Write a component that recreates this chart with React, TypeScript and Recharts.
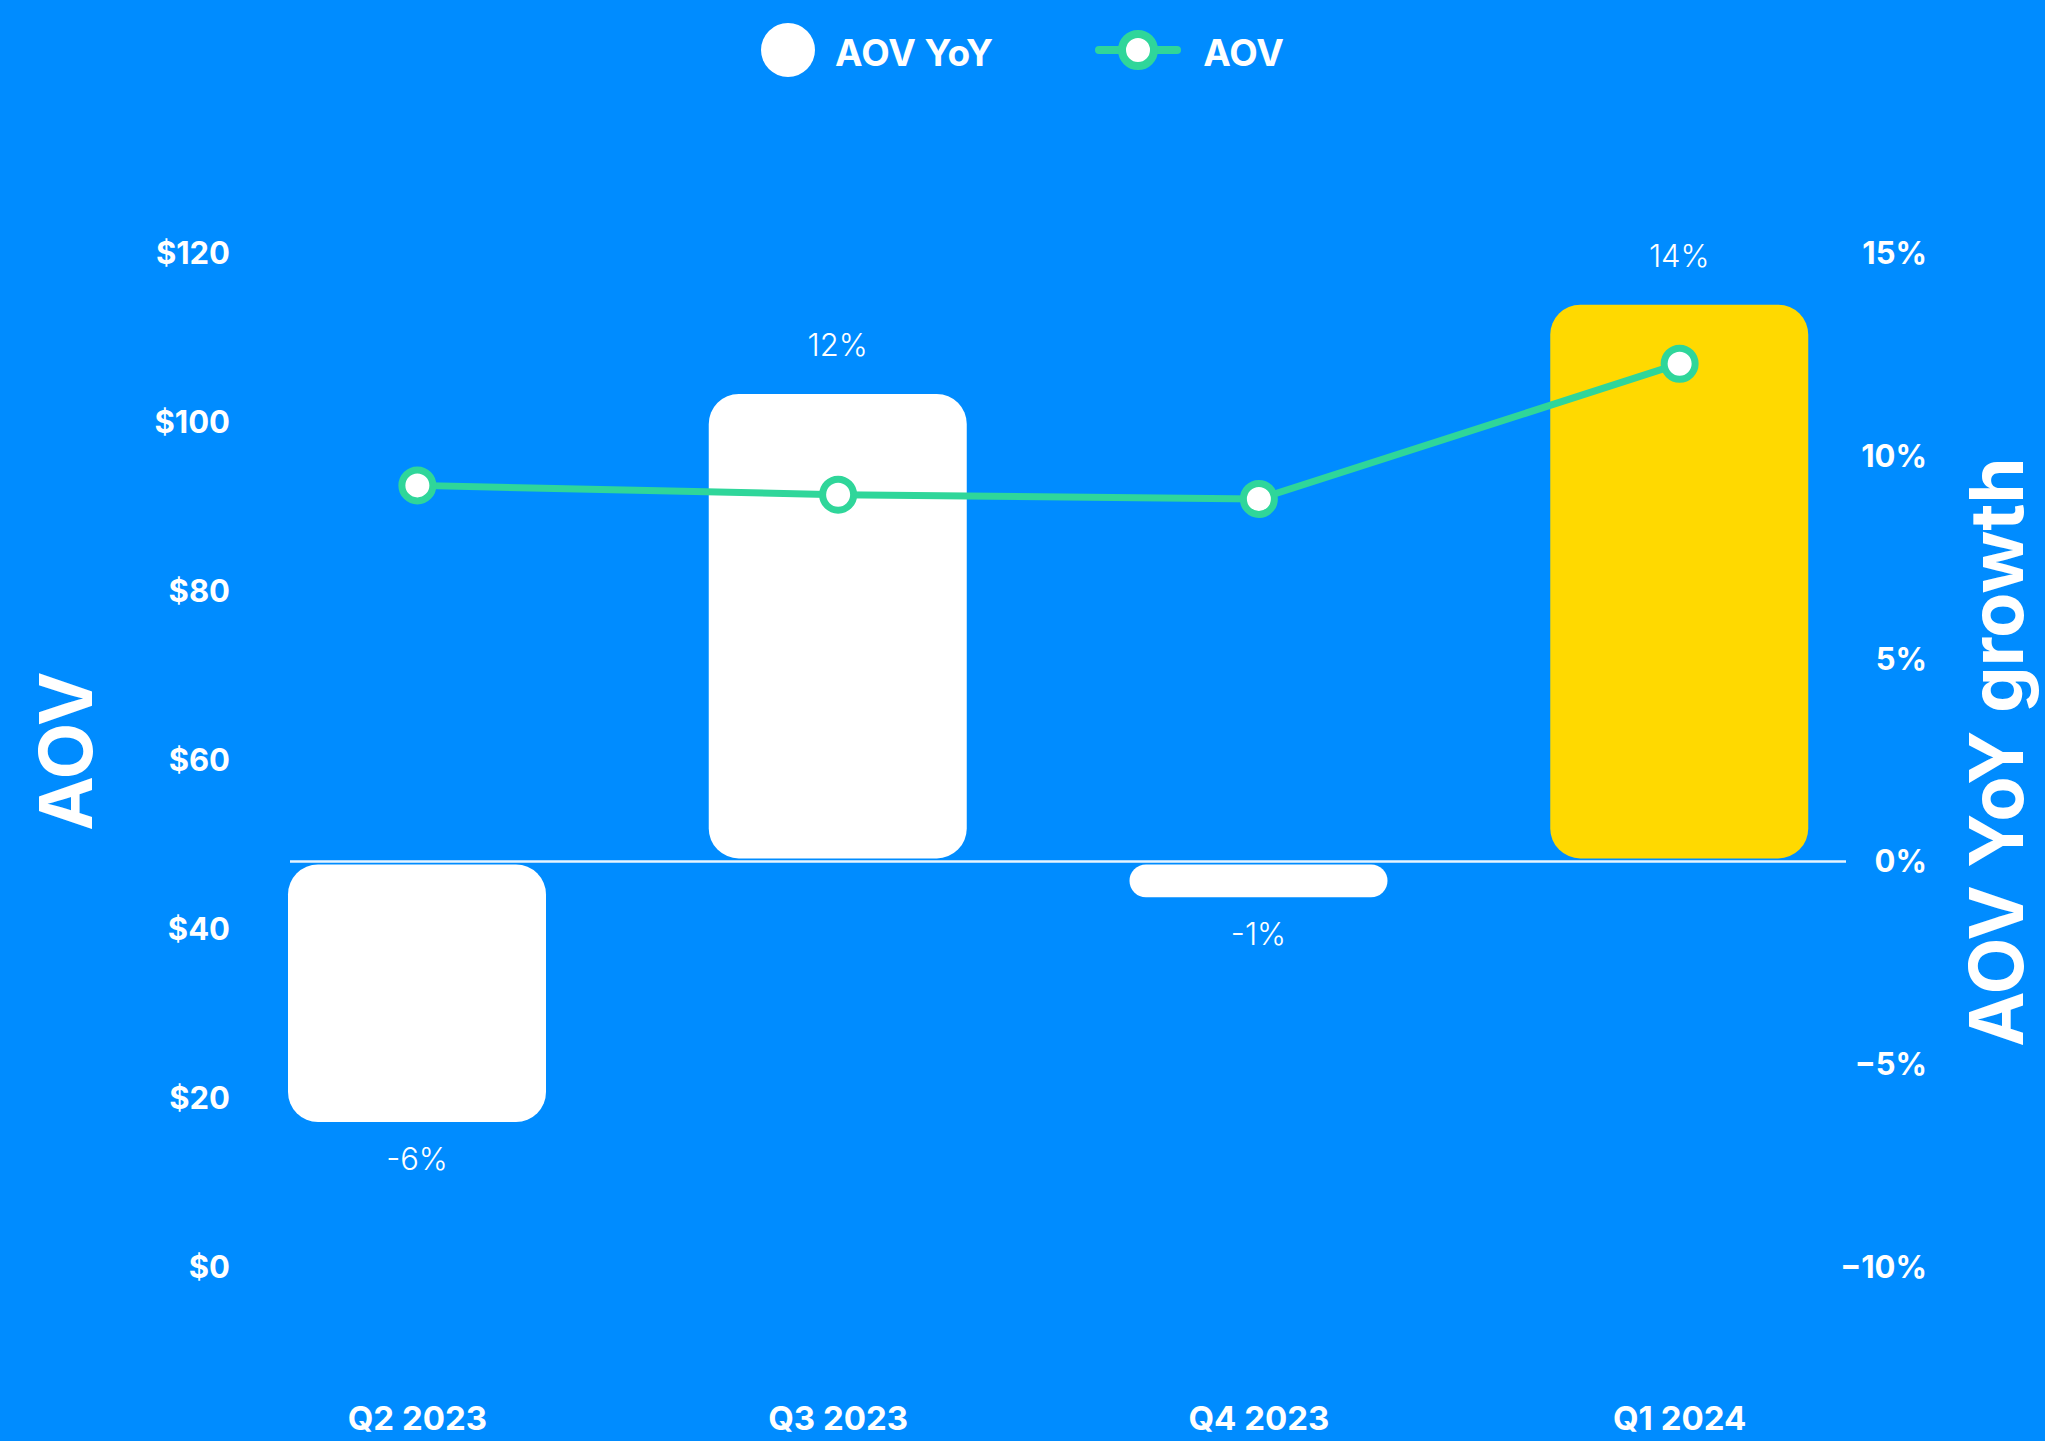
import React from 'react';
import { ComposedChart, Bar, Line, XAxis, YAxis, ReferenceLine, Legend, Cell, LabelList } from 'recharts';

const categories = ['Q2 2023', 'Q3 2023', 'Q4 2023', 'Q1 2024'];
const aovYoY = [-6.5, 11.6, -0.96, 13.8];
const aovValues = [92.5, 91.4, 90.9, 106.9];
const barColors = ['#ffffff', '#ffffff', '#ffffff', '#ffd900'];
const leftTicks = [0, 20, 40, 60, 80, 100, 120];
const rightTicks = [-10, -5, 0, 5, 10, 15];
const legendOrder = ['AOV YoY', 'AOV'];

const data = categories.map((c, i) => ({ quarter: c, yoy: aovYoY[i], aov: aovValues[i] }));

const BG = '#008cff';
const GREEN = '#2fd69a';
const FONT = 'Inter, "Noto Sans", sans-serif';

const RoundedBar = (props: any) => {
  const { x, y, width, height, fill } = props;
  const inset = 3;
  const top = Math.min(y, y + height) + inset;
  const h = Math.abs(height) - 2 * inset;
  const left = x + inset;
  const w = width - 2 * inset;
  if (!(h > 0) || !(w > 0)) return null;
  const r = Math.min(30, h / 2, w / 2);
  return <rect x={left} y={top} width={w} height={h} rx={r} ry={r} fill={fill} />;
};

const renderBarLabel = (props: any) => {
  const vb = props.viewBox || {};
  const x = props.x ?? vb.x;
  const y = props.y ?? vb.y;
  const width = props.width ?? vb.width;
  const height = props.height ?? vb.height;
  const v = Number(props.value);
  const cx = x + width / 2;
  const top = Math.min(y, y + height);
  const bottom = Math.max(y, y + height);
  const text = `${v < 0 ? '-' : ''}${Math.abs(Math.round(v))}%`;
  const common = { textAnchor: 'middle' as const, fill: '#ffffff', fontSize: 31, fontWeight: 300, fontFamily: FONT };
  if (v >= 0) return <text x={cx} y={top - 35} {...common}>{text}</text>;
  return <text x={cx} y={bottom + 45} {...common}>{text}</text>;
};

const renderLegend = (props: any) => {
  const payload = [...(props.payload || [])].sort(
    (a: any, b: any) => legendOrder.indexOf(a.value) - legendOrder.indexOf(b.value)
  );
  return (
    <div style={{ height: 100, width: 2045, display: 'flex', alignItems: 'center', justifyContent: 'center', fontFamily: FONT, fontSize: 37, fontWeight: 700, color: '#ffffff' }}>
      {payload.map((entry: any, i: number) => (
        <div key={i} style={{ display: 'flex', alignItems: 'center', marginLeft: i === 0 ? 0 : 102 }}>
          {entry.type === 'line' ? (
            <svg width={86} height={54} style={{ marginRight: 22 }}>
              <line x1={4} y1={27} x2={82} y2={27} stroke={GREEN} strokeWidth={8} strokeLinecap="round" />
              <circle cx={43} cy={27} r={16} fill="#ffffff" stroke={GREEN} strokeWidth={8} />
            </svg>
          ) : (
            <svg width={54} height={54} style={{ marginRight: 20 }}>
              <circle cx={27} cy={27} r={27} fill="#ffffff" />
            </svg>
          )}
          <span style={{ lineHeight: '54px', paddingTop: 6 }}>{entry.value}</span>
        </div>
      ))}
    </div>
  );
};

const RightTick = (props: any) => {
  const { x, y, payload } = props;
  const v = Number(payload.value);
  const label = v < 0 ? `\u2212${-v}%` : `${v}%`;
  return (
    <text x={x} y={y} dy="0.355em" textAnchor="end" fill="#ffffff" fontSize={31} fontWeight={700} fontFamily={FONT}>
      {label}
    </text>
  );
};

const LeftTitle = (props: any) => {
  const vb = props.viewBox;
  const x = vb.x + 2;
  const y = vb.y + vb.height / 2 - 9;
  return (
    <text x={x} y={y} transform={`rotate(-90, ${x}, ${y})`} textAnchor="middle" fill="#ffffff" fontSize={73} fontWeight={700} fontFamily={FONT}>
      AOV
    </text>
  );
};

const RightTitle = (props: any) => {
  const vb = props.viewBox;
  const x = vb.x + vb.width + 27;
  const y = vb.y + vb.height / 2 - 8;
  return (
    <text x={x} y={y} transform={`rotate(-90, ${x}, ${y})`} textAnchor="middle" fill="#ffffff" fontSize={74} fontWeight={700} fontFamily={FONT}>
      AOV YoY growth
    </text>
  );
};

export default function App() {
  return (
    <div style={{ position: 'fixed', left: 0, top: 0, width: 2045, height: 1441, background: BG, fontFamily: FONT }}>
      <ComposedChart width={2045} height={1441} data={data} margin={{ top: 153, right: 49, bottom: 0, left: 90 }}>
        <Legend verticalAlign="top" content={renderLegend} wrapperStyle={{ top: 0, left: 0, width: 2045, height: 100 }} />
        <XAxis
          dataKey="quarter"
          height={174}
          axisLine={false}
          tickLine={false}
          tickSize={0}
          tickMargin={140}
          padding={{ left: -83, right: -44 }}
          interval={0}
          tick={{ fill: '#ffffff', fontSize: 33, fontWeight: 700, fontFamily: FONT }}
        />
        <YAxis
          yAxisId="left"
          orientation="left"
          width={200}
          domain={[0, 120]}
          ticks={leftTicks}
          interval={0}
          axisLine={false}
          tickLine={false}
          tickSize={0}
          tickMargin={60}
          tickFormatter={(v: number) => `$${v}`}
          tick={{ fill: '#ffffff', fontSize: 31, fontWeight: 700, fontFamily: FONT }}
          label={<LeftTitle />}
        />
        <YAxis
          yAxisId="right"
          orientation="right"
          width={150}
          domain={[-10, 15]}
          ticks={rightTicks}
          interval={0}
          axisLine={false}
          tickLine={false}
          tickSize={0}
          tickMargin={81}
          tick={<RightTick />}
          label={<RightTitle />}
        />
        <Bar dataKey="yoy" yAxisId="right" name="AOV YoY" barSize={264} shape={<RoundedBar />} legendType="circle" isAnimationActive={false}>
          {data.map((d, i) => (
            <Cell key={d.quarter} fill={barColors[i]} />
          ))}
          <LabelList dataKey="yoy" content={renderBarLabel} />
        </Bar>
        <ReferenceLine y={0} yAxisId="right" stroke="#ffffff" strokeWidth={2.5} strokeOpacity={0.9} />
        <Line
          dataKey="aov"
          yAxisId="left"
          name="AOV"
          type="linear"
          stroke={GREEN}
          strokeWidth={7}
          dot={{ r: 15.5, fill: '#ffffff', stroke: GREEN, strokeWidth: 7 }}
          activeDot={false}
          legendType="line"
          isAnimationActive={false}
        />
      </ComposedChart>
    </div>
  );
}
